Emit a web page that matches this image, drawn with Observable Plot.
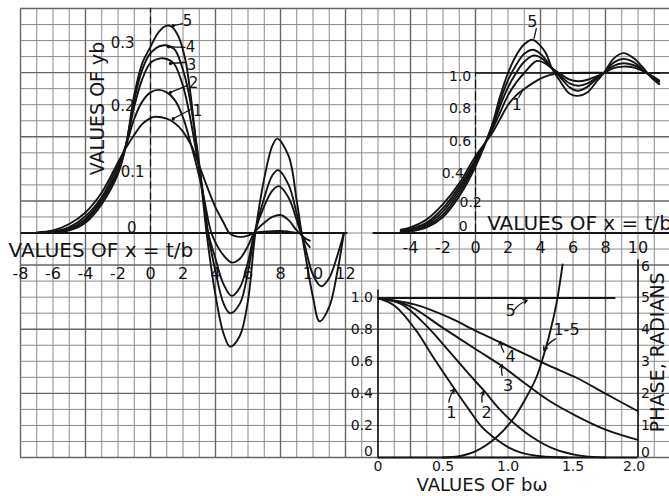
<!DOCTYPE html>
<html><head><meta charset="utf-8">
<script src="https://cdn.jsdelivr.net/npm/d3@7"></script>
<script src="https://cdn.jsdelivr.net/npm/@observablehq/plot@0.6"></script>
<style>
body{margin:0;background:#fff;}
#wrap{position:relative;width:669px;height:496px;overflow:hidden;background:#fff;}
#wrap svg{position:absolute;}
</style></head><body><div id="wrap"></div>
<script>
// ---------- DATA ----------
// Impulse response curves (x = t/b, y = yb)
const impulse1 = [[-7,0.001],[-6,0.004],[-5,0.014],[-4,0.032],[-3,0.063],[-2,0.11],[-1.5,0.133],[-1,0.153],[-0.5,0.17],[0,0.179],[0.3,0.181],[1,0.178],[1.5,0.171],[2,0.158],[2.5,0.137],[3,0.105],[3.5,0.071],[4,0.04],[4.5,0.016],[4.85,0],[5.2,-0.005],[5.6,-0.006],[6,-0.004],[6.4,0],[7,0.002],[8,0.003],[9,0]];
const impulse2 = [[-7,0],[-6,0.002],[-5,0.009],[-4,0.026],[-3,0.056],[-2,0.106],[-1.5,0.137],[-1,0.178],[-0.5,0.205],[0,0.219],[0.5,0.223],[1,0.219],[1.5,0.207],[2,0.18],[2.5,0.137],[3,0.088],[3.3,0.053],[3.6,0.014],[3.75,0],[4,-0.015],[4.5,-0.035],[5,-0.046],[5.5,-0.04],[6,-0.02],[6.4,0.001],[7,0.016],[7.5,0.025],[8,0.028],[8.5,0.02],[9,0.004],[9.5,-0.008],[9.8,-0.012]];
const impulse3 = [[-7,0],[-6,0.001],[-5,0.007],[-4,0.022],[-3,0.052],[-2,0.1],[-1.5,0.138],[-1,0.197],[-0.5,0.24],[0,0.265],[0.6,0.272],[1,0.271],[1.44,0.264],[2,0.229],[2.36,0.19],[2.77,0.133],[3.08,0.086],[3.38,0.034],[3.55,0],[4,-0.04],[4.5,-0.08],[5,-0.098],[5.5,-0.085],[6,-0.045],[6.4,0],[7,0.042],[7.5,0.066],[7.9,0.073],[8.5,0.055],[9,0.02],[9.25,0],[9.5,-0.012],[9.8,-0.022]];
const impulse4 = [[-7,0],[-6,0.001],[-5,0.005],[-4,0.019],[-3,0.05],[-2,0.096],[-1.5,0.138],[-1,0.207],[-0.5,0.255],[0,0.28],[0.72,0.292],[1.44,0.287],[1.95,0.258],[2.36,0.217],[2.77,0.149],[3.08,0.092],[3.38,0.03],[3.5,0.005],[4,-0.06],[4.5,-0.11],[4.9,-0.125],[5.5,-0.11],[6,-0.06],[6.45,0.004],[7,0.055],[7.5,0.09],[7.85,0.098],[8.5,0.075],[9,0.03],[9.5,-0.02],[10,-0.065],[10.5,-0.083],[11,-0.07],[11.5,-0.035],[11.9,0]];
const impulse5 = [[-7,0],[-6,0.001],[-5,0.004],[-4,0.016],[-3,0.045],[-2,0.092],[-1.5,0.138],[-1,0.215],[-0.5,0.265],[0,0.29],[0.5,0.313],[1,0.323],[1.33,0.321],[1.74,0.305],[2.15,0.269],[2.46,0.217],[2.77,0.149],[3.08,0.086],[3.3,0.035],[3.45,0],[4,-0.097],[4.5,-0.157],[4.9,-0.177],[5.5,-0.16],[6,-0.105],[6.45,0],[7,0.085],[7.5,0.136],[7.8,0.147],[8.5,0.12],[9,0.05],[9.3,0],[9.5,-0.03],[10,-0.1],[10.4,-0.1375],[11,-0.115],[11.5,-0.06],[11.9,0]];

// Step response curves
const step1 = [[-4.6,0.02],[-4,0.035],[-3,0.085],[-2,0.18],[-1,0.31],[0,0.48],[1,0.62],[1.5,0.71],[2,0.8],[2.5,0.86],[3,0.9],[3.5,0.935],[4,0.965],[4.5,0.985],[5,0.997],[5.5,1.0],[11.3,1.0]];
const step2 = [[-4.6,0.012],[-4,0.025],[-3,0.065],[-2,0.155],[-1,0.29],[0,0.46],[1,0.64],[1.5,0.75],[2,0.86],[2.5,0.94],[3,1.0],[3.75,1.075],[4.2,1.065],[4.7,1.03],[5.2,0.995],[5.8,0.958],[6.3,0.948],[6.9,0.958],[7.4,0.978],[7.9,1.0],[8.5,1.03],[9.1,1.04],[9.7,1.035],[10.3,1.012],[10.8,0.985],[11.3,0.955]];
const step3 = [[-4.6,0.009],[-4,0.02],[-3,0.055],[-2,0.135],[-1,0.27],[0,0.445],[1,0.65],[1.5,0.79],[2,0.91],[2.5,1.0],[3,1.07],[3.6,1.11],[4.1,1.09],[4.7,1.03],[5.2,0.985],[5.8,0.935],[6.3,0.92],[6.9,0.935],[7.4,0.968],[7.9,1.0],[8.5,1.045],[9.1,1.061],[9.7,1.05],[10.3,1.018],[10.8,0.98],[11.3,0.945]];
const step4 = [[-4.6,0.006],[-4,0.015],[-3,0.045],[-2,0.115],[-1,0.25],[0,0.43],[1,0.66],[1.5,0.82],[2,0.955],[2.5,1.05],[3,1.12],[3.55,1.145],[4.1,1.11],[4.7,1.03],[5.2,0.975],[5.8,0.91],[6.3,0.889],[6.9,0.915],[7.4,0.96],[7.9,1.0],[8.5,1.065],[9.1,1.088],[9.7,1.07],[10.3,1.022],[10.8,0.975],[11.3,0.935]];
const step5 = [[-4.6,0.004],[-4,0.01],[-3,0.035],[-2,0.1],[-1,0.23],[0,0.415],[1,0.67],[1.5,0.85],[2,1.0],[2.5,1.11],[3,1.18],[3.5,1.208],[4,1.17],[4.35,1.12],[4.7,1.03],[5.2,0.95],[5.8,0.87],[6.3,0.857],[6.9,0.88],[7.4,0.94],[7.9,1.0],[8.5,1.09],[9.1,1.124],[9.7,1.095],[10.3,1.035],[10.8,0.975],[11.3,0.93]];

// Amplitude vs b·omega
const amp1 = [[0,1],[0.13,0.95],[0.29,0.8],[0.42,0.635],[0.58,0.44],[0.7,0.3],[0.8,0.19],[0.9,0.12],[1.0,0.065],[1.1,0.03],[1.25,0.008],[1.45,0]];
const amp2 = [[0,1],[0.18,0.962],[0.36,0.836],[0.545,0.669],[0.7,0.522],[0.817,0.417],[0.933,0.305],[1.06,0.205],[1.19,0.125],[1.35,0.055],[1.53,0.015],[1.75,0]];
const amp3 = [[0,1],[0.235,0.952],[0.493,0.816],[0.752,0.679],[0.959,0.57],[1.14,0.459],[1.32,0.354],[1.527,0.26],[1.75,0.175],[2.0,0.11]];
const amp4 = [[0,1],[0.287,0.958],[0.545,0.878],[0.752,0.794],[0.946,0.72],[1.14,0.645],[1.32,0.574],[1.527,0.5],[1.75,0.4],[2.0,0.29]];
const amp5 = [[0,1],[1.82,1]];
// Phase (radians), curves 1-5
const phase15 = [[0.5,0],[0.622,0.04],[0.752,0.2],[0.907,0.62],[1.036,1.19],[1.14,1.88],[1.217,2.5],[1.269,3.13],[1.32,3.87],[1.372,4.81],[1.398,5.44],[1.42,6.05]];

// Tick labels
const mainXTicks = [-8,-6,-4,-2,0,2,4,6,8,10,12];
const mainYTicks = [["0.3",-1.72,0.296],["0.2",-1.72,0.198],["0.1",-1.1,0.095],["0",-1.15,0.008]];
const stepXTicks = [-4,-2,0,2,4,6,8,10];
const stepYTicks = [["1.0",-0.95,0.98],["0.8",-0.95,0.78],["0.6",-0.95,0.57],["0.4",-1.4,0.37],["0.2",-0.3,0.19],["0",-0.75,0.04]];
const bwTicks = [["0",0],["0.5",0.5],["1.0",1.0],["1.5",1.5],["2.0",1.97]];
const ampTicks = [["1.0",1],["0.8",0.8],["0.6",0.6],["0.4",0.4],["0.2",0.2],["0",0.035]];
const phaseTicks = [["6",6],["5",5],["4",4],["3",3],["2",2],["1",1],["0",0.17]];
// Curve annotations: [label, textX, textY, fromX, fromY, toX, toY]
const mainCurveLabels = [["5",2.28,0.33,1.40,0.323,2.01,0.326],["4",2.46,0.289,1.11,0.29,2.15,0.289],["3",2.52,0.262,1.23,0.264,2.22,0.266],["2",2.65,0.234,1.23,0.219,2.28,0.23],["1",2.89,0.189,1.40,0.178,2.57,0.194]];
const stepCurveLabels = [["5",3.5,1.32,3.75,1.28,3.6,1.215],["1",2.55,0.8,2.65,0.845,2.95,0.9]];
const ampCurveLabels = [["5",1.02,0.92,1.045,0.923,1.148,0.986],["4",1.02,0.628,0.968,0.661,0.942,0.728],["3",1.0,0.452,0.955,0.515,0.955,0.582],["2",0.835,0.282,0.80,0.347,0.81,0.414],["1",0.565,0.282,0.545,0.347,0.588,0.427]];
const phaseLabel = [["1-5",1.45,4.0,1.365,3.72,1.275,3.36]];

// ---------- DRAWING ----------
const FONT = "DejaVu Sans, sans-serif";
const INK = "#141414";
const wrap = document.getElementById("wrap");
const toRows = (arr, name) => arr.map(([x, y]) => ({x, y, c: name}));

function panel({left, top, width, height, xCal, yCal, marks}) {
  const xv = p => xCal[0] + (p - xCal[1]) * (xCal[2] - xCal[0]) / (xCal[3] - xCal[1]);
  const yv = p => yCal[0] + (p - yCal[1]) * (yCal[2] - yCal[0]) / (yCal[3] - yCal[1]);
  const svg = Plot.plot({
    width, height, margin: 0,
    x: {domain: [xv(left), xv(left + width)], axis: null},
    y: {domain: [yv(top + height), yv(top)], axis: null},
    style: {background: "transparent", overflow: "visible", fontFamily: FONT, color: INK},
    marks
  });
  svg.style.left = left + "px";
  svg.style.top = top + "px";
  wrap.append(svg);
}

// graph-paper grid (cell units)
const gridCols = d3.range(0, 40);
const gridRows = d3.range(0, 29);
panel({
  left: 0, top: 0, width: 669, height: 496,
  xCal: [0, 20, 1, 36.25], yCal: [0, 8, 28, 457],
  marks: [
    Plot.ruleX(gridCols.filter(k => k % 4), {x: d => d, y1: 0, y2: 28, stroke: "#8a8a8a", strokeWidth: 1}),
    Plot.ruleY(gridRows.filter(k => k % 4), {y: d => d, x1: 0, x2: 40, stroke: "#8a8a8a", strokeWidth: 1}),
    Plot.ruleX(gridCols.filter(k => !(k % 4)), {x: d => d, y1: 0, y2: 28, stroke: "#666", strokeWidth: 1.4}),
    Plot.ruleY(gridRows.filter(k => !(k % 4)), {y: d => d, x1: 0, x2: 40, stroke: "#666", strokeWidth: 1.4})
  ]
});

const curveStyle = {x: "x", y: "y", z: "c", stroke: INK, strokeWidth: 1.9, curve: "catmull-rom"};
const labelMarks = (rows, fs) => [
  Plot.link(rows, {x1: d => d[3], y1: d => d[4], x2: d => d[5], y2: d => d[6], stroke: INK, strokeWidth: 1.3}),
  Plot.text(rows, {x: d => d[1], y: d => d[2], text: d => d[0], fontSize: fs, fill: INK})
];

// Main panel: impulse response
const impulseRows = [impulse1, impulse2, impulse3, impulse4, impulse5].flatMap((a, i) => toRows(a, "c" + (i + 1)));
panel({
  left: 0, top: 0, width: 380, height: 380,
  xCal: [0, 150, 12, 345], yCal: [0, 232.5, 0.1, 168.3],
  marks: [
    Plot.ruleY([0], {x1: -7.95, x2: 12.15, stroke: INK, strokeWidth: 1.8}),
    Plot.ruleX([0], {y1: 0, y2: 0.35, stroke: INK, strokeWidth: 1.2, strokeDasharray: "7,4"}),
    Plot.line(impulseRows, curveStyle),
    Plot.text(mainXTicks, {x: d => d, y: 0, dy: 41, text: d => String(d), fontSize: 16, fill: INK}),
    Plot.text(mainYTicks, {x: d => d[1], y: d => d[2], text: d => d[0], fontSize: 15, fill: INK}),
    Plot.text(["VALUES OF x = t/b"], {x: -8.74, y: -0.027, text: d => d, textAnchor: "start", fontSize: 20, fill: INK}),
    Plot.text(["VALUES OF yb"], {x: -3.26, y: 0.194, text: d => d, rotate: -90, fontSize: 19, fill: INK}),
    ...labelMarks(mainCurveLabels, 15),
    Plot.dot(mainCurveLabels, {x: d => d[3], y: d => d[4], r: 1.7, fill: INK})
  ]
});

// Right panel: step response
const stepRows = [step1, step2, step3, step4, step5].flatMap((a, i) => toRows(a, "s" + (i + 1)));
panel({
  left: 360, top: 0, width: 309, height: 270,
  xCal: [0, 475, 10, 637.5], yCal: [0, 232.5, 1, 72.5],
  marks: [
    Plot.ruleY([0], {x1: -6.3, x2: 12.5, stroke: INK, strokeWidth: 1.8}),
    Plot.ruleY([1], {x1: 0, x2: 12.5, stroke: INK, strokeWidth: 1.5}),
    Plot.ruleX([0], {y1: 0, y2: 1, stroke: INK, strokeWidth: 1.2, strokeDasharray: "9,3"}),
    Plot.line(stepRows, curveStyle),
    Plot.text(stepXTicks, {x: d => d, y: 0, dy: 15, text: d => String(d), fontSize: 16, fill: INK}),
    Plot.text(stepYTicks, {x: d => d[1], y: d => d[2], text: d => d[0], fontSize: 14, fill: INK}),
    Plot.text(["VALUES OF x = t/b"], {x: 0.72, y: 0.06, text: d => d, textAnchor: "start", fontSize: 20, fill: INK}),
    ...labelMarks(stepCurveLabels, 16)
  ]
});

// Bottom-right panel: amplitude
const ampRows = [amp1, amp2, amp3, amp4, amp5].flatMap((a, i) => toRows(a, "a" + (i + 1)));
const bwX = {left: 340, top: 250, width: 329, height: 246, xCal: [0, 377.5, 2, 637.5]};
panel({
  ...bwX, yCal: [0, 457, 1, 297.5],
  marks: [
    Plot.ruleY([0], {x1: 0, x2: 2.0, stroke: INK, strokeWidth: 1.8}),
    Plot.ruleX([0], {y1: 0, y2: 1.05, stroke: INK, strokeWidth: 1.6}),
    Plot.line(ampRows, curveStyle),
    Plot.text(bwTicks, {x: d => d[1], y: 0, dy: 9, text: d => d[0], fontSize: 14, fill: INK}),
    Plot.text(ampTicks, {x: 0, y: d => d[1], dx: -5, text: d => d[0], textAnchor: "end", fontSize: 14, fill: INK}),
    Plot.text(["VALUES OF bω"], {x: 0.8, y: -0.177, text: d => d, fontSize: 18, fill: INK}),
    Plot.arrow(ampCurveLabels, {x1: d => d[3], y1: d => d[4], x2: d => d[5], y2: d => d[6], stroke: INK, strokeWidth: 1.3, headLength: 5, bend: 15}),
    Plot.text(ampCurveLabels, {x: d => d[1], y: d => d[2], text: d => d[0], fontSize: 16, fill: INK})
  ]
});

// Bottom-right panel: phase overlay (right axis)
panel({
  ...bwX, yCal: [0, 457, 5, 297.5],
  marks: [
    Plot.ruleX([2], {y1: 0, y2: 6.2, stroke: INK, strokeWidth: 1.6}),
    Plot.line(toRows(phase15, "p"), curveStyle),
    Plot.text(phaseTicks, {x: 2, y: d => d[1], dx: 3, text: d => d[0], textAnchor: "start", fontSize: 14, fill: INK}),
    Plot.text(["PHASE, RADIANS"], {x: 2.155, y: 3.3, text: d => d, rotate: -90, fontSize: 19, fill: INK}),
    Plot.arrow(phaseLabel, {x1: d => d[3], y1: d => d[4], x2: d => d[5], y2: d => d[6], stroke: INK, strokeWidth: 1.3, headLength: 5, bend: -15}),
    Plot.text(phaseLabel, {x: d => d[1], y: d => d[2], text: d => d[0], fontSize: 16, fill: INK})
  ]
});
</script></body></html>
